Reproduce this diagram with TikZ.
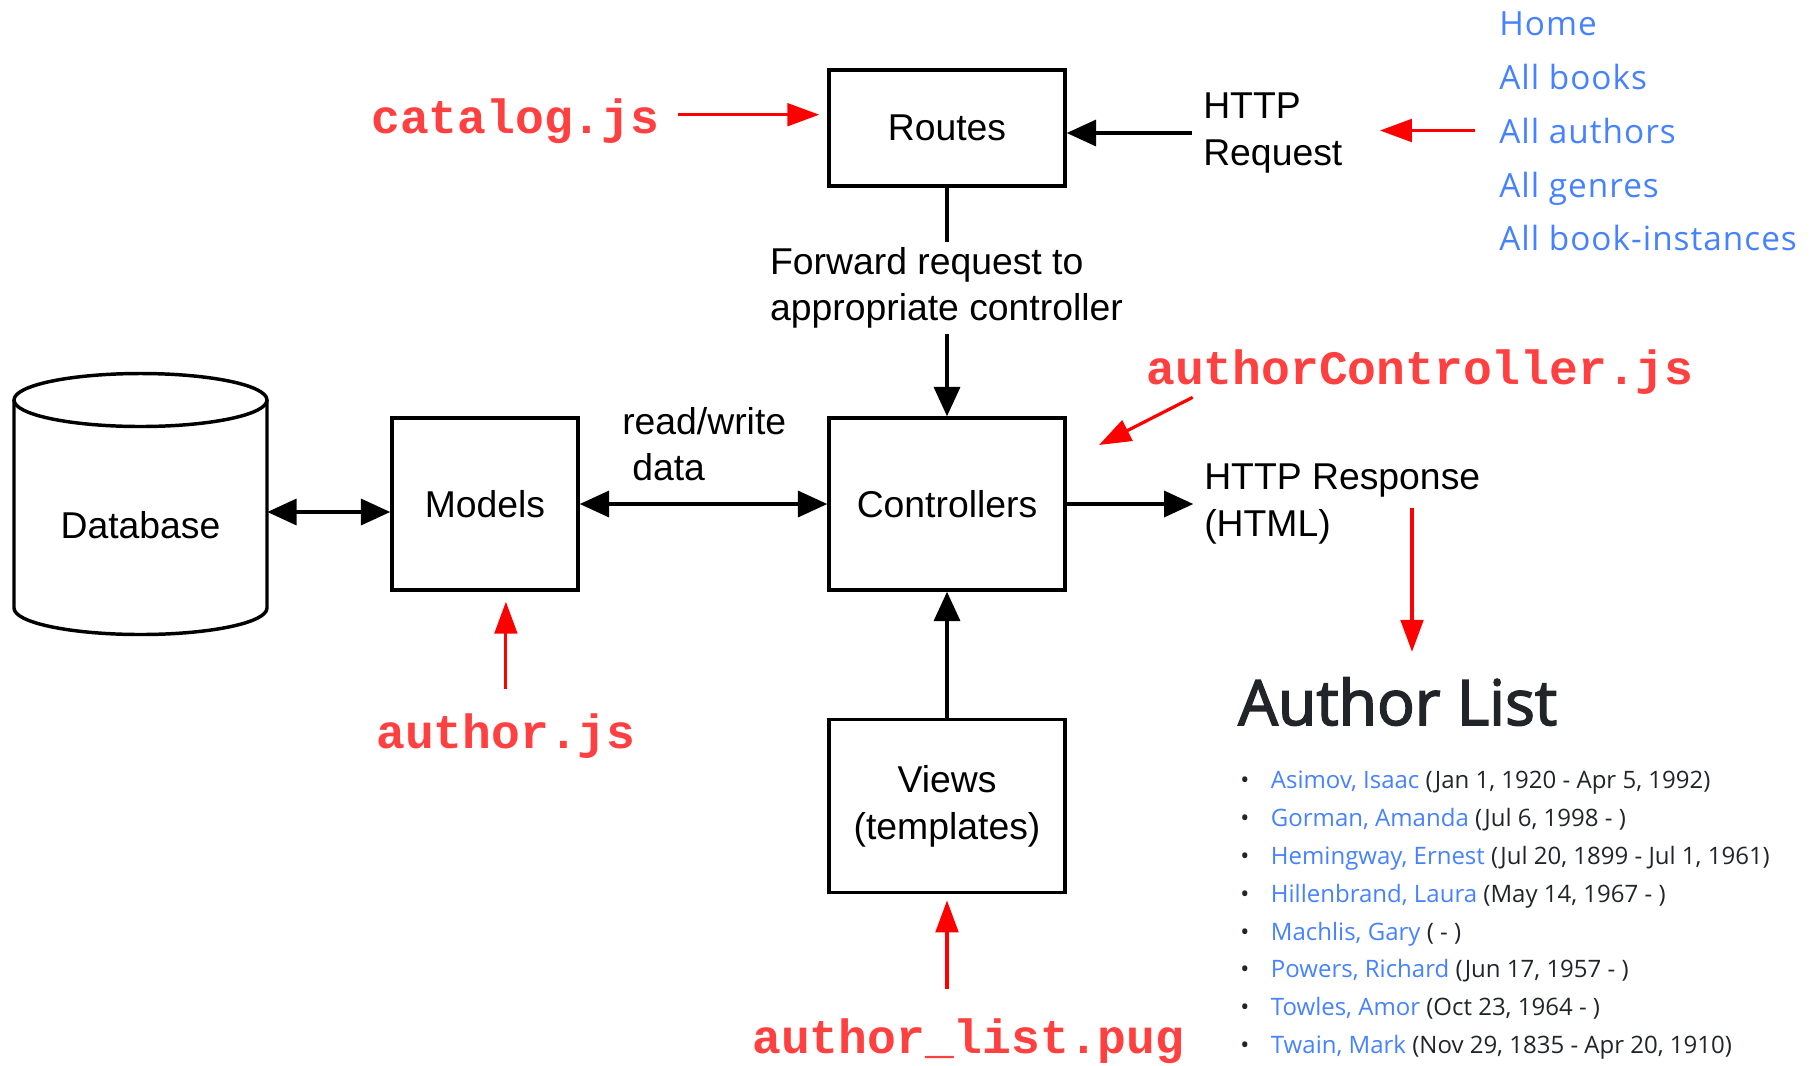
\documentclass[tikz,border=0pt]{standalone}
\usepackage{fontspec}
\setmainfont{Liberation Sans}
\newfontfamily\codefont{Liberation Mono}
\newfontfamily\webfont{Open Sans}
\newfontfamily\navfont{Open Sans}[LetterSpace=3]
\newfontfamily\headfont{Open Sans}[FakeBold=2.5]
\usetikzlibrary{arrows.meta}
\definecolor{codered}{RGB}{255,64,64}
\definecolor{arrowred}{RGB}{255,0,0}
\definecolor{linkblue}{RGB}{70,130,255}
\definecolor{inkdark}{RGB}{33,37,41}

\begin{document}
\begin{tikzpicture}[x=0.75pt,y=0.75pt,yscale=-1,xscale=1,
  box/.style={draw,line width=2.6pt,inner sep=0pt,align=center,font=\fontsize{28}{35}\selectfont},
  lbl/.style={inner sep=0pt,align=left,font=\fontsize{28}{35}\selectfont},
  code/.style={inner sep=0pt,anchor=base west,text=codered,font=\codefont\bfseries\fontsize{36}{40}\selectfont},
  navlink/.style={inner sep=0pt,anchor=base west,text=linkblue,font=\navfont\fontsize{25}{28}\selectfont},
  listitem/.style={inner sep=0pt,anchor=base west,text=inkdark,font=\webfont\fontsize{18}{22}\selectfont},
  blkarrow/.style={line width=2.6pt,-{Triangle[length=22pt,width=19.5pt]}},
  biarrow/.style={line width=2.6pt,{Triangle[length=22pt,width=19.5pt]}-{Triangle[length=22pt,width=19.5pt]}},
  redarrow/.style={line width=2.4pt,arrowred,-{Triangle[length=24pt,width=17pt]}}]
\useasboundingbox (0,0) rectangle (1819,1065);

% Boxes
\node[box,minimum width=177pt,minimum height=87pt] (routes) at (947,128) {Routes};
\node[box,minimum width=177pt,minimum height=129pt] (controllers) at (947,504) {Controllers};
\node[box,minimum width=139.5pt,minimum height=129pt] (models) at (485,504) {Models};
\node[box,minimum width=177pt,minimum height=130pt] (views) at (947,806) {Views\\(templates)};

% Database cylinder
\node[inner sep=0pt,minimum width=189.75pt,minimum height=195pt] (db) at (140.5,504) {};
\draw[line width=2.6pt] (140.5,400) ellipse [x radius=126.5, y radius=26.5];
\draw[line width=2.6pt] (14,400) -- (14,608) arc[start angle=180, end angle=0, x radius=126.5, y radius=26.5] -- (267,400);
\node[lbl] (dbtext) at (140.5,525) {Database};

% Text labels
\node[lbl,inner sep=3.75pt] (fwd) at (946.5,288) {Forward request to\\appropriate controller};
\node[lbl,anchor=west] (httpreq) at (1203,133) {HTTP\\Request};
\node[lbl,anchor=west] (response) at (1204,504) {HTTP Response\\(HTML)};
\node[lbl,anchor=west] (rwdata) at (622,444) {read/write\\\hspace*{7.5pt}data};

% Connectors
\draw[line width=2.6pt] (routes.south) -- (routes.south |- fwd.north);
\draw[blkarrow] (routes.south |- fwd.south) -- (controllers.north);
\draw[blkarrow,shorten <=8pt] (httpreq.west) -- (httpreq.west -| routes.east);
\draw[biarrow] (models) -- (controllers);
\draw[biarrow] ([yshift=6pt]db.east) -- ([yshift=6pt]db.east -| models.west);
\draw[blkarrow,shorten >=8pt] (controllers.east) -- (controllers.east -| response.west);
\draw[blkarrow] (views) -- (controllers);

% Red file names
\node[code] (catalog) at (371,133) {catalog.js};
\node[code] (authorctl) at (1146,384) {authorController.js};
\node[code] (authorjs) at (376,748) {author.js};
\node[code] (authorpug) at (752,1053) {author\_list.pug};

% Website text
\node[navlink] (navhome) at (1499,35) {Home};
\node[navlink] (navbooks) at (1499,89) {All books};
\node[navlink] (navauthors) at (1499,143) {All authors};
\node[navlink] (navgenres) at (1499,197) {All genres};
\node[navlink] (navinstances) at (1499,250) {All book-instances};

\node[inner sep=0pt,anchor=base west,text=inkdark,font=\headfont\fontsize{47}{54}\selectfont] (heading) at (1238,725) {Author List};
\node[listitem] (author1) at (1240,788) {\makebox[23pt][l]{\textbullet}\textcolor{linkblue}{Asimov, Isaac} (Jan 1, 1920 - Apr 5, 1992)};
\node[listitem] (author2) at (1240,826) {\makebox[23pt][l]{\textbullet}\textcolor{linkblue}{Gorman, Amanda} (Jul 6, 1998 - )};
\node[listitem] (author3) at (1240,864) {\makebox[23pt][l]{\textbullet}\textcolor{linkblue}{Hemingway, Ernest} (Jul 20, 1899 - Jul 1, 1961)};
\node[listitem] (author4) at (1240,902) {\makebox[23pt][l]{\textbullet}\textcolor{linkblue}{Hillenbrand, Laura} (May 14, 1967 - )};
\node[listitem] (author5) at (1240,940) {\makebox[23pt][l]{\textbullet}\textcolor{linkblue}{Machlis, Gary} ( - )};
\node[listitem] (author6) at (1240,977) {\makebox[23pt][l]{\textbullet}\textcolor{linkblue}{Powers, Richard} (Jun 17, 1957 - )};
\node[listitem] (author7) at (1240,1015) {\makebox[23pt][l]{\textbullet}\textcolor{linkblue}{Towles, Amor} (Oct 23, 1964 - )};
\node[listitem] (author8) at (1240,1053) {\makebox[23pt][l]{\textbullet}\textcolor{linkblue}{Twain, Mark} (Nov 29, 1835 - Apr 20, 1910)};

% Red arrows
\draw[redarrow,shorten <=14pt,shorten >=6pt] ([yshift=-4.5pt]catalog.east) -- ([yshift=-4.5pt]catalog.east -| routes.west);
\draw[redarrow,shorten <=18pt,shorten >=28pt] (navauthors.west) -- (navauthors.west -| httpreq.east);
\coordinate (ctlpoint) at (1099,445);
\draw[redarrow] ([xshift=35pt,yshift=10pt]authorctl.base west) -- (ctlpoint);
\coordinate (htmlout) at (1412,508);
\draw[redarrow,shorten >=19pt] (htmlout) -- (htmlout |- heading.north);
\draw[redarrow,shorten <=18pt,shorten >=7.5pt] (authorjs.north) -- (authorjs.north |- models.south);
\draw[redarrow,shorten <=22pt,shorten >=4.5pt] (views.south |- authorpug.north) -- (views.south);

\end{tikzpicture}
\end{document}
